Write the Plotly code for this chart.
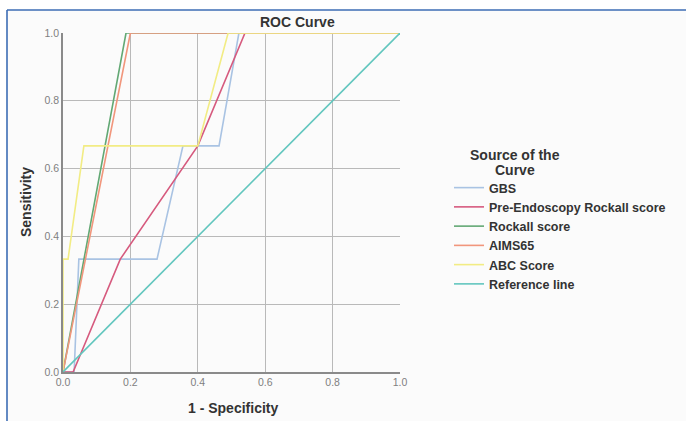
import plotly.graph_objects as go

# ---- data ----
gbs_x = [0.0, 0.033, 0.047, 0.279, 0.356, 0.463, 0.522, 1.0]
gbs_y = [0.0, 0.0, 0.333, 0.333, 0.667, 0.667, 1.0, 1.0]

pre_x = [0.0, 0.03, 0.17, 0.40, 0.54, 1.0]
pre_y = [0.0, 0.0, 0.333, 0.667, 1.0, 1.0]

rock_x = [0.0, 0.187, 1.0]
rock_y = [0.0, 1.0, 1.0]

aims_x = [0.0, 0.2, 1.0]
aims_y = [0.0, 1.0, 1.0]

abc_x = [0.0, 0.0, 0.015, 0.062, 0.40, 0.49, 1.0]
abc_y = [0.0, 0.333, 0.333, 0.667, 0.667, 1.0, 1.0]

ref_x = [0.0, 1.0]
ref_y = [0.0, 1.0]

names = ["GBS", "Pre-Endoscopy Rockall score", "Rockall score", "AIMS65", "ABC Score", "Reference line"]
colors = ["#a9c3e3", "#d65a7e", "#62a874", "#f1967c", "#f2ec84", "#62c6be"]
series = [(gbs_x, gbs_y), (pre_x, pre_y), (rock_x, rock_y), (aims_x, aims_y), (abc_x, abc_y), (ref_x, ref_y)]
ticks = [0.0, 0.2, 0.4, 0.6, 0.8, 1.0]
tick_text = ["0.0", "0.2", "0.4", "0.6", "0.8", "1.0"]

W, H = 686, 421
L, R, T, B = 63, 286, 33, 49
pw, ph = W - L - R, H - T - B

def px(x):
    return (x - L) / pw

def py(y):
    return (H - B - y) / ph

fig = go.Figure()
for (xs, ys), n, c in zip(series, names, colors):
    fig.add_trace(go.Scatter(x=xs, y=ys, mode="lines", name=n,
                             line=dict(color=c, width=1.6)))

font = "Liberation Sans, Arial, sans-serif"
axis_common = dict(range=[0, 1], tickvals=ticks, ticktext=tick_text,
                   showgrid=True, gridcolor="#b9b9b9", gridwidth=1.3,
                   zeroline=False, showline=True, linecolor="#8a8a8a", linewidth=1.5,
                   tickfont=dict(family=font, size=10.5, color="#808080"),
                   ticks="", fixedrange=True, automargin=False)

def ann(text, x, y, size=14, angle=0):
    return dict(text=text, x=px(x), y=py(y), xref="paper", yref="paper",
                xanchor="center", yanchor="middle", showarrow=False,
                align="center", textangle=angle,
                font=dict(family=font, size=size, color="#333333"))

fig.update_layout(
    width=W, height=H,
    margin=dict(l=L, r=R, t=T, b=B, autoexpand=False),
    paper_bgcolor="#ffffff",
    plot_bgcolor="#fbfbfb",
    showlegend=True,
    legend=dict(x=px(449), y=py(173), xanchor="left", yanchor="top",
                font=dict(family=font, size=12.5, color="#333333", weight="bold"),
                bgcolor="rgba(0,0,0,0)", tracegroupgap=0, itemwidth=30),
    xaxis=dict(**axis_common),
    yaxis=dict(**axis_common),
    annotations=[
        ann("<b>ROC Curve</b>", 297, 22),
        ann("<b>1 - Specificity</b>", 233, 408),
        ann("<b>Sensitivity</b>", 26, 202, angle=-90),
        ann("<b>Source of the</b>", 515, 155, size=14),
        ann("<b>Curve</b>", 515, 170, size=14),
    ],
    shapes=[
        dict(type="rect", xref="paper", yref="paper", x0=px(7), x1=px(W + 5), y0=py(H + 5), y1=py(10),
             fillcolor="#fbfbfb", line=dict(width=0), layer="below"),
        dict(type="line", xref="paper", yref="paper", x0=px(7), x1=px(W + 5), y0=py(10), y1=py(10),
             line=dict(color="#3d6db5", width=1.6)),
        dict(type="line", xref="paper", yref="paper", x0=px(7), x1=px(7), y0=py(10), y1=py(H + 5),
             line=dict(color="#3d6db5", width=1.6)),
    ],
)

fig.write_html("out.html", config={"displayModeBar": False},
               post_script="document.body.style.margin='0px';")
